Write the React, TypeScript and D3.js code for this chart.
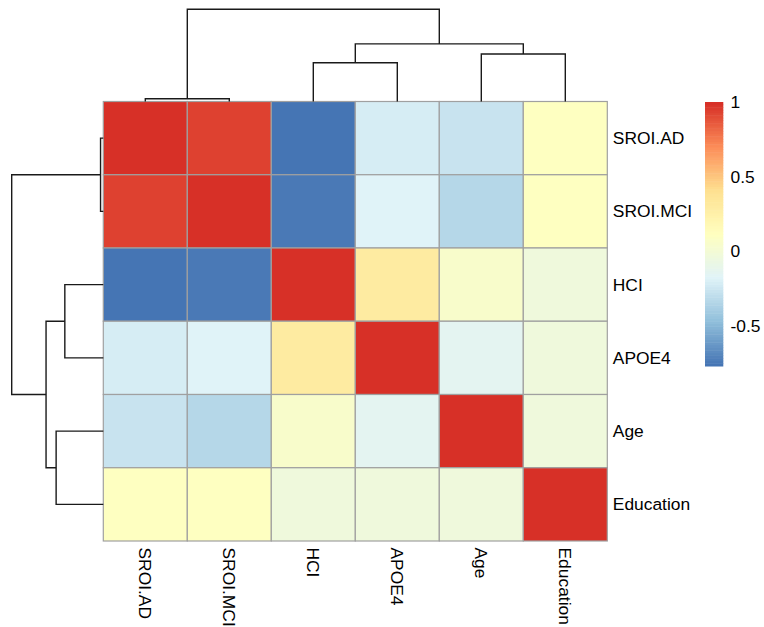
import React from "react";
import * as d3 from "d3";

// ---------- data ----------
const variables = ["SROI.AD", "SROI.MCI", "HCI", "APOE4", "Age", "Education"];

// correlation matrix rows (same order as variables)
const rowSROIAD = [1.0, 0.94, -0.77, -0.22, -0.27, 0.11];
const rowSROIMCI = [0.94, 1.0, -0.74, -0.18, -0.345, 0.10];
const rowHCI = [-0.77, -0.74, 1.0, 0.3, 0.05, -0.04];
const rowAPOE4 = [-0.22, -0.18, 0.3, 1.0, -0.14, -0.04];
const rowAge = [-0.27, -0.345, 0.05, -0.14, 1.0, -0.04];
const rowEducation = [0.11, 0.10, -0.04, -0.04, -0.04, 1.0];
const matrix = [rowSROIAD, rowSROIMCI, rowHCI, rowAPOE4, rowAge, rowEducation];

// hierarchical clustering merges: [left, right, height]
const merges: [string, string, number][] = [
  ["SROI.AD", "SROI.MCI", 0.03],
  ["HCI", "APOE4", 0.42],
  ["Age", "Education", 0.515],
  ["m1", "m2", 0.625],
  ["m0", "m3", 1.0],
];

const legendTicks = [-0.5, 0, 0.5, 1];
const paletteStops = ["#4575B4", "#91BFDB", "#E0F3F8", "#FFFFBF", "#FEE090", "#FC8D59", "#D73027"];

// ---------- layout ----------
const W = 764;
const H = 627;
const gridLeft = 103.3;
const gridRight = 607.3;
const gridTop = 101.5;
const gridBottom = 541;
const colDendroTop = 9.3;
const rowDendroLeft = 11.7;
const FONT = "'Liberation Sans', Arial, Helvetica, sans-serif";
const FS = 17.4;

type TNode = { name: string; height: number; children?: TNode[] };

function buildTree(): TNode {
  const nodes: Record<string, TNode> = {};
  variables.forEach((v) => (nodes[v] = { name: v, height: 0 }));
  merges.forEach(([a, b, h], i) => {
    nodes["m" + i] = { name: "m" + i, height: h, children: [nodes[a], nodes[b]] };
  });
  return nodes["m" + (merges.length - 1)];
}

export default function App() {
  const vals = matrix.flat();
  const vmin = d3.min(vals) as number;
  const vmax = d3.max(vals) as number;

  const ramp = d3
    .scaleLinear<string>()
    .domain(d3.range(paletteStops.length).map((i) => i / (paletteStops.length - 1)))
    .range(paletteStops)
    .interpolate(d3.interpolateRgb);
  const nCol = 100;
  const colors = d3.range(nCol).map((i) => ramp(i / (nCol - 1)));
  const colorOf = (v: number) => {
    let idx = Math.floor(((v - vmin) / (vmax - vmin)) * nCol);
    idx = Math.max(0, Math.min(nCol - 1, idx));
    return colors[idx];
  };

  const x = d3.scaleBand<string>().domain(variables).range([gridLeft, gridRight]);
  const y = d3.scaleBand<string>().domain(variables).range([gridTop, gridBottom]);

  const root = d3.hierarchy<TNode>(buildTree());
  const maxH = root.data.height;
  const colH = d3.scaleLinear().domain([0, maxH]).range([gridTop, colDendroTop]);
  const rowH = d3.scaleLinear().domain([0, maxH]).range([gridLeft, rowDendroLeft]);

  const colPos = (n: d3.HierarchyNode<TNode>): number =>
    n.children ? (colPos(n.children[0]) + colPos(n.children[1])) / 2 : (x(n.data.name) as number) + x.bandwidth() / 2;
  const rowPos = (n: d3.HierarchyNode<TNode>): number =>
    n.children ? (rowPos(n.children[0]) + rowPos(n.children[1])) / 2 : (y(n.data.name) as number) + y.bandwidth() / 2;

  const colPaths: string[] = [];
  const rowPaths: string[] = [];
  root.each((n) => {
    if (!n.children) return;
    const [a, b] = n.children;
    const hy = colH(n.data.height);
    colPaths.push(
      `M${colPos(a)},${colH(a.data.height)}V${hy}H${colPos(b)}V${colH(b.data.height)}`
    );
    const hx = rowH(n.data.height);
    rowPaths.push(
      `M${rowH(a.data.height)},${rowPos(a)}H${hx}V${rowPos(b)}H${rowH(b.data.height)}`
    );
  });

  // legend
  const legTop = 102;
  const legBottom = 366;
  const legX = 705;
  const legW = 18.3;
  const legScale = d3.scaleLinear().domain([vmin, vmax]).range([legBottom, legTop]);
  const segH = (legBottom - legTop) / nCol;

  return (
    <svg
      width={W}
      height={H}
      style={{ position: "absolute", left: 0, top: 0, background: "#fff" }}
      fontFamily={FONT}
    >
      <rect x={0} y={0} width={W} height={H} fill="#fff" />
      {/* cells */}
      {matrix.map((row, i) =>
        row.map((v, j) => (
          <rect
            key={`${i}-${j}`}
            x={x(variables[j])}
            y={y(variables[i])}
            width={x.bandwidth()}
            height={y.bandwidth()}
            fill={colorOf(v)}
            stroke="#a0a0a0"
            strokeWidth={1.2}
          />
        ))
      )}
      {/* dendrograms */}
      <g fill="none" stroke="#1a1a1a" strokeWidth={1.4}>
        {colPaths.map((d, i) => (
          <path key={"c" + i} d={d} />
        ))}
        {rowPaths.map((d, i) => (
          <path key={"r" + i} d={d} />
        ))}
      </g>
      {/* row labels */}
      {variables.map((v) => (
        <text
          key={"rl" + v}
          x={gridRight + 5.5}
          y={(y(v) as number) + y.bandwidth() / 2}
          dy="0.35em"
          fontSize={FS}
          fill="#000"
        >
          {v}
        </text>
      ))}
      {/* column labels */}
      {variables.map((v) => {
        const cx = (x(v) as number) + x.bandwidth() / 2;
        const cy = gridBottom + 6.5;
        return (
          <text
            key={"cl" + v}
            transform={`translate(${cx},${cy}) rotate(90)`}
            dy="0.35em"
            fontSize={FS}
            fill="#000"
          >
            {v}
          </text>
        );
      })}
      {/* legend */}
      {colors.map((c, i) => (
        <rect
          key={"lg" + i}
          x={legX}
          y={legBottom - (i + 1) * segH}
          width={legW}
          height={segH + 0.5}
          fill={c}
        />
      ))}
      {legendTicks.map((t) => (
        <text key={"lt" + t} x={730.5} y={legScale(t)} dy="0.35em" fontSize={FS} fill="#000">
          {t}
        </text>
      ))}
    </svg>
  );
}
